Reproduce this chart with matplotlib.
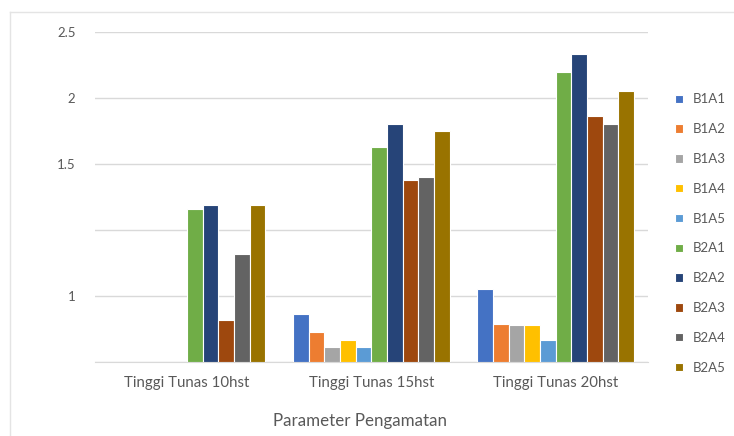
import numpy as np
import matplotlib
matplotlib.use("Agg")
import matplotlib.pyplot as plt
from matplotlib.lines import Line2D

# data
categories = ["Tinggi Tunas 10hst", "Tinggi Tunas 15hst", "Tinggi Tunas 20hst"]
series = ["B1A1", "B1A2", "B1A3", "B1A4", "B1A5",
          "B2A1", "B2A2", "B2A3", "B2A4", "B2A5"]
values = {
    "B1A1": [0.0, 0.36, 0.55],
    "B1A2": [0.0, 0.23, 0.29],
    "B1A3": [0.0, 0.11, 0.28],
    "B1A4": [0.0, 0.17, 0.28],
    "B1A5": [0.0, 0.11, 0.17],
    "B2A1": [1.16, 1.63, 2.20],
    "B2A2": [1.19, 1.80, 2.33],
    "B2A3": [0.32, 1.38, 1.86],
    "B2A4": [0.82, 1.40, 1.80],
    "B2A5": [1.19, 1.75, 2.05],
}
ytick_values = [0, 0.5, 1.0, 1.5, 2.0, 2.5]
ytick_labels = ["", "1", "", "1.5", "2", "2.5"]

colors = ["#4472C4", "#ED7D31", "#A5A5A5", "#FFC000", "#5B9BD5",
          "#70AD47", "#264478", "#9E480E", "#636363", "#997300"]

plt.rcParams["font.family"] = ["Lato", "DejaVu Sans"]
text_col = "#595959"
grid_col = "#d9d9d9"

fig = plt.figure(figsize=(7.34, 4.36), dpi=100)
ax = fig.add_axes([0.1294, 0.1697, 0.7534, 0.7569])

x = np.arange(len(categories))
group_w = 0.85
bar_w = group_w / len(series)
for i, name in enumerate(series):
    offs = -group_w / 2 + bar_w * (i + 0.5)
    ax.bar(x + offs, values[name], width=bar_w, color=colors[i],
           edgecolor="white", linewidth=0.8, label=name, zorder=3)

ax.set_xlim(-0.5, 2.5)
ax.set_ylim(0, 2.5)
ax.set_yticks(ytick_values)
ax.set_yticklabels(ytick_labels)
ax.set_xticks(x)
ax.set_xticklabels(categories)
ax.tick_params(axis="both", length=0, colors=text_col)
ax.tick_params(axis="y", pad=14, labelsize=9.5)
ax.tick_params(axis="x", pad=10, labelsize=10.8)
ax.grid(axis="y", color=grid_col, linewidth=1, zorder=0)
for s in ["top", "right", "left"]:
    ax.spines[s].set_visible(False)
ax.spines["bottom"].set_color(grid_col)

fig.text(0.491, 1 - 421 / 436, "Parameter Pengamatan", ha="center", va="center",
         fontsize=12.2, color=text_col)

ax.legend(loc="center left", bbox_to_anchor=(0.912, 0.4644),
          bbox_transform=fig.transFigure, frameon=False, fontsize=9.5,
          labelcolor=text_col, handlelength=0.6, handleheight=0.6,
          handletextpad=0.8, labelspacing=1.35, borderaxespad=0)

# outer chart border (top and left only)
fig.add_artist(Line2D([0.0136, 1.0], [0.9725, 0.9725], color="#e4e4e4",
                      linewidth=1, transform=fig.transFigure))
fig.add_artist(Line2D([0.0136, 0.0136], [0.0, 0.9725], color="#e4e4e4",
                      linewidth=1, transform=fig.transFigure))

fig.savefig("out.png", dpi=100, facecolor="white")
